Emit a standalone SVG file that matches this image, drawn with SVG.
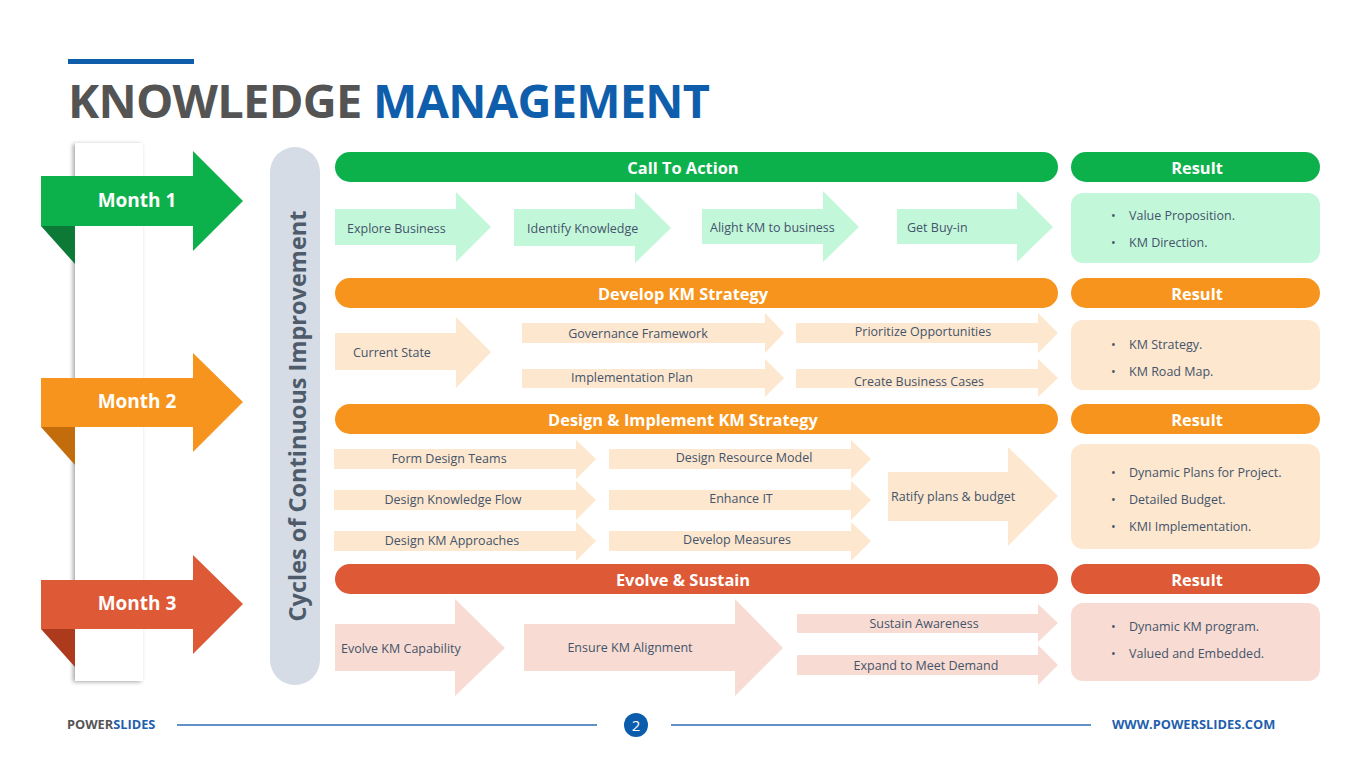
<svg xmlns="http://www.w3.org/2000/svg" width="1365" height="767" viewBox="0 0 1365 767">
<defs>
<style>
.t{font-family:"Open Sans","Liberation Sans",sans-serif;font-size:12.5px;fill:#44546A;dominant-baseline:central}
.c{text-anchor:middle}
.h{font-family:"Open Sans","Liberation Sans",sans-serif;font-weight:bold;font-size:16.4px;fill:#fff;text-anchor:middle;dominant-baseline:central}
.m{font-family:"Open Sans","Liberation Sans",sans-serif;font-weight:bold;font-size:19px;fill:#fff;text-anchor:middle;dominant-baseline:central}
.mint{fill:#C3F7DA}.peach{fill:#FDE7CF}.pink{fill:#F8DCD3}
.g{fill:#0DB14B}.o{fill:#F7941D}.r{fill:#DE5935}
.f{font-family:"Open Sans","Liberation Sans",sans-serif;font-weight:bold;font-size:12.8px;dominant-baseline:central}
</style>
<filter id="sh" x="-20%" y="-5%" width="140%" height="110%">
<feDropShadow dx="-2" dy="1" stdDeviation="2" flood-color="#000" flood-opacity="0.35"/>
</filter>
</defs>
<rect width="1365" height="767" fill="#fff"/>

<!-- Title -->
<g id="title">
<rect x="68" y="59" width="126" height="5" fill="#0F5EAC"/>
<text x="68" y="118" font-family="'Open Sans','Liberation Sans',sans-serif" font-weight="bold" font-size="47" letter-spacing="-0.75"><tspan fill="#545454">KNOWLEDGE </tspan><tspan fill="#0F5EAC">MANAGEMENT</tspan></text>
</g>

<!-- Left panel -->
<g id="month-panel">
<rect x="75" y="143" width="68" height="538" fill="#fff" filter="url(#sh)"/>
</g>

<g id="month1">
<polygon points="41,226 75,226 75,264" fill="#0C7A36"/>
<polygon class="g" points="41,176 193,176 193,151 243,201 193,251 193,226 41,226"/>
<text class="m" x="137" y="200">Month 1</text>
</g>
<g id="month2">
<polygon points="41,427 75,427 75,465" fill="#C26C0C"/>
<polygon class="o" points="41,378 193,378 193,353 243,402 193,452 193,427 41,427"/>
<text class="m" x="137" y="401">Month 2</text>
</g>
<g id="month3">
<polygon points="41,629 75,629 75,667" fill="#AE3A1D"/>
<polygon class="r" points="41,580 193,580 193,555 243,604 193,654 193,629 41,629"/>
<text class="m" x="137" y="603">Month 3</text>
</g>

<!-- Vertical pill -->
<g id="cycles">
<rect x="270" y="147" width="50" height="538" rx="25" fill="#D5DCE6"/>
<text transform="translate(297,416) rotate(-90)" font-family="'Open Sans','Liberation Sans',sans-serif" font-weight="bold" font-size="23.5" fill="#4E5B6A" text-anchor="middle" dominant-baseline="central">Cycles of Continuous Improvement</text>
</g>

<!-- Headers -->
<g id="hdr-call"><rect class="g" x="335" y="152" width="723" height="30" rx="15"/><text class="h" x="683" y="167">Call To Action</text></g>
<g id="hdr-res1"><rect class="g" x="1071" y="152" width="249" height="30" rx="15"/><text class="h" x="1197" y="167">Result</text></g>
<g id="hdr-develop"><rect class="o" x="335" y="278" width="723" height="30" rx="15"/><text class="h" x="683" y="293">Develop KM Strategy</text></g>
<g id="hdr-res2"><rect class="o" x="1071" y="278" width="249" height="30" rx="15"/><text class="h" x="1197" y="293">Result</text></g>
<g id="hdr-design"><rect class="o" x="335" y="404" width="723" height="30" rx="15"/><text class="h" x="683" y="419">Design &amp; Implement KM Strategy</text></g>
<g id="hdr-res3"><rect class="o" x="1071" y="404" width="249" height="30" rx="15"/><text class="h" x="1197" y="419">Result</text></g>
<g id="hdr-evolve"><rect class="r" x="335" y="564" width="723" height="30" rx="15"/><text class="h" x="683" y="579">Evolve &amp; Sustain</text></g>
<g id="hdr-res4"><rect class="r" x="1071" y="564" width="249" height="30" rx="15"/><text class="h" x="1197" y="579">Result</text></g>

<!-- Row 1 -->
<g id="explore"><polygon class="mint" points="335,209 456,209 456,192 491,227 456,262 456,245 335,245"/><text class="t" x="347" y="228">Explore Business</text></g>
<g id="identify"><polygon class="mint" points="514,209 635,209 635,192 671,228 635,263 635,246 514,246"/><text class="t" x="527" y="228">Identify Knowledge</text></g>
<g id="alight"><polygon class="mint" points="702,209 823,209 823,191 859,227 823,262 823,244 702,244"/><text class="t" x="710" y="227">Alight KM to business</text></g>
<g id="buyin"><polygon class="mint" points="897,209 1017,209 1017,191 1053,227 1017,262 1017,244 897,244"/><text class="t" x="907" y="227">Get Buy-in</text></g>
<g id="result1"><rect class="mint" x="1071" y="193" width="249" height="70" rx="12"/>
<text class="t" x="1111" y="215">•</text><text class="t" x="1129" y="215">Value Proposition.</text>
<text class="t" x="1111" y="242">•</text><text class="t" x="1129" y="242">KM Direction.</text></g>

<!-- Row 2 -->
<g id="current"><polygon class="peach" points="335,333 456,333 456,317 491,352 456,388 456,370 335,370"/><text class="t" x="353" y="352">Current State</text></g>
<g id="governance"><polygon class="peach" points="522,323 765,323 765,313 784,333 765,353 765,343 522,343"/><text class="t c" x="638" y="333">Governance Framework</text></g>
<g id="implplan"><polygon class="peach" points="522,369 765,369 765,359 784,378 765,397 765,388 522,388"/><text class="t c" x="632" y="377">Implementation Plan</text></g>
<g id="prioritize"><polygon class="peach" points="796,323 1038,323 1038,313 1058,333 1038,353 1038,343 796,343"/><text class="t c" x="923" y="331">Prioritize Opportunities</text></g>
<g id="bizcases"><polygon class="peach" points="796,369 1038,369 1038,359 1058,378 1038,397 1038,388 796,388"/><text class="t c" x="919" y="381">Create Business Cases</text></g>
<g id="result2"><rect class="peach" x="1071" y="320" width="249" height="70" rx="12"/>
<text class="t" x="1111" y="344">•</text><text class="t" x="1129" y="344">KM Strategy.</text>
<text class="t" x="1111" y="371">•</text><text class="t" x="1129" y="371">KM Road Map.</text></g>

<!-- Row 3 -->
<g id="formteams"><polygon class="peach" points="334,449 576,449 576,440 596,459 576,479 576,469 334,469"/><text class="t c" x="449" y="458">Form Design Teams</text></g>
<g id="knowflow"><polygon class="peach" points="334,490 576,490 576,481 596,500 576,520 576,510 334,510"/><text class="t c" x="453" y="499">Design Knowledge Flow</text></g>
<g id="kmapproach"><polygon class="peach" points="334,531 576,531 576,522 596,541 576,561 576,551 334,551"/><text class="t c" x="452" y="540">Design KM Approaches</text></g>
<g id="resmodel"><polygon class="peach" points="609,449 851,449 851,440 871,459 851,479 851,469 609,469"/><text class="t c" x="744" y="457">Design Resource Model</text></g>
<g id="enhanceit"><polygon class="peach" points="609,490 851,490 851,481 871,500 851,520 851,510 609,510"/><text class="t c" x="741" y="498">Enhance IT</text></g>
<g id="measures"><polygon class="peach" points="609,531 851,531 851,522 871,541 851,561 851,551 609,551"/><text class="t c" x="737" y="539">Develop Measures</text></g>
<g id="ratify"><polygon class="peach" points="888,472 1008,472 1008,447 1058,496 1008,546 1008,521 888,521"/><text class="t" x="891" y="496">Ratify plans &amp; budget</text></g>
<g id="result3"><rect class="peach" x="1071" y="444" width="249" height="105" rx="12"/>
<text class="t" x="1111" y="472">•</text><text class="t" x="1129" y="472">Dynamic Plans for Project.</text>
<text class="t" x="1111" y="499">•</text><text class="t" x="1129" y="499">Detailed Budget.</text>
<text class="t" x="1111" y="526">•</text><text class="t" x="1129" y="526">KMI Implementation.</text></g>

<!-- Row 4 -->
<g id="evolvecap"><polygon class="pink" points="335,624 455,624 455,599 505,648 455,696 455,671 335,671"/><text class="t" x="341" y="648">Evolve KM Capability</text></g>
<g id="ensure"><polygon class="pink" points="524,624 735,624 735,599 783,648 735,696 735,671 524,671"/><text class="t c" x="630" y="647">Ensure KM Alignment</text></g>
<g id="sustain"><polygon class="pink" points="797,614 1038,614 1038,604 1058,623 1038,642 1038,633 797,633"/><text class="t c" x="924" y="623">Sustain Awareness</text></g>
<g id="expand"><polygon class="pink" points="797,655 1038,655 1038,645 1058,665 1038,685 1038,675 797,675"/><text class="t c" x="926" y="665">Expand to Meet Demand</text></g>
<g id="result4"><rect class="pink" x="1071" y="603" width="249" height="78" rx="12"/>
<text class="t" x="1111" y="626">•</text><text class="t" x="1129" y="626">Dynamic KM program.</text>
<text class="t" x="1111" y="653">•</text><text class="t" x="1129" y="653">Valued and Embedded.</text></g>

<g id="connectors"></g>

<!-- Footer -->
<g id="footer">
<text class="f" x="67" y="724"><tspan fill="#555">POWER</tspan><tspan fill="#1F5FAD">SLIDES</tspan></text>
<line x1="177" y1="725" x2="597" y2="725" stroke="#2E6DB4" stroke-width="1.4"/>
<circle cx="636" cy="725" r="12" fill="#0B5CAD"/>
<text x="636" y="725" font-family="'Open Sans','Liberation Sans',sans-serif" font-size="15" fill="#fff" text-anchor="middle" dominant-baseline="central">2</text>
<line x1="671" y1="725" x2="1091" y2="725" stroke="#2E6DB4" stroke-width="1.4"/>
<text class="f" x="1112" y="724" fill="#1F5FAD">WWW.POWERSLIDES.COM</text>
</g>
</svg>
